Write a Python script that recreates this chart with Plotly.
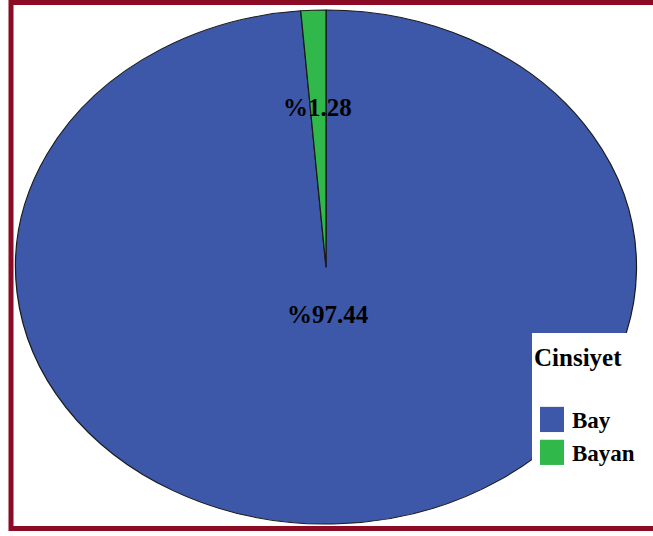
import plotly.graph_objects as go

# ---- data ----
categories = ["Bay", "Bayan"]
percentages = [97.44, 1.28]
legend_title = "Cinsiyet"
label_texts = ["%" + f"{v:.2f}" for v in percentages]

# ---- style ----
slice_colors = ["#3d58a8", "#31b84a"]
frame_color = "#8b0a24"
font_family = "Liberation Serif, Times New Roman, serif"

W, H = 653, 536
cx, cy = 326, 267       # pie centre (px)
ry = 257                # vertical radius (px)
rx = 310.5              # horizontal radius (px)

fig = go.Figure()
fig.add_trace(go.Pie(
    labels=categories,
    values=percentages,
    sort=False,
    direction="clockwise",
    rotation=0,
    marker=dict(colors=slice_colors, line=dict(color="#1a1a1a", width=1)),
    textinfo="none",
    hoverinfo="label+percent",
    domain=dict(x=[(cx - ry) / W, (cx + ry) / W],
                y=[1 - (cy + ry) / H, 1 - (cy - ry) / H]),
    showlegend=True,
))

# slice labels
label_pos = [(328, 314), (317.5, 107.5)]
for txt, (px, py) in zip(label_texts, label_pos):
    fig.add_annotation(
        text=txt, x=px / W, y=1 - py / H, xref="paper", yref="paper",
        xanchor="center", yanchor="middle", showarrow=False,
        font=dict(family=font_family, size=25, color="#000000", weight="bold"),
    )

# frame
fig.add_shape(type="rect", xref="paper", yref="paper",
              x0=11 / W, x1=1.05, y0=1 - 528.5 / H, y1=1 - 2.5 / H,
              line=dict(color=frame_color, width=5), fillcolor="rgba(0,0,0,0)",
              layer="above")

fig.update_layout(
    width=W, height=H,
    margin=dict(l=0, r=0, t=0, b=0),
    paper_bgcolor="white",
    plot_bgcolor="white",
    font=dict(family=font_family, size=25, color="#000000", weight="bold"),
    legend=dict(
        title=dict(text=legend_title + "<br> ",
                   font=dict(family=font_family, size=25, weight="bold")),
        font=dict(family=font_family, size=23, color="#000000", weight="bold"),
        x=532 / W, y=1 - 333 / H, xanchor="left", yanchor="top",
        bgcolor="white", borderwidth=0,
        traceorder="normal",
    ),
)

css = (
    "html,body{margin:0;padding:0;overflow:hidden;}"
    ".pielayer path.surface{transform-origin:%dpx %dpx;transform:scale(%.4f,1);}"
    ".legend path.legendpie{transform:translate(20px,0px) scale(2,2.1);stroke-width:0 !important;}"
) % (cx, cy, rx / ry)
post = ("var s=document.createElement('style');s.textContent=%r;"
        "document.head.appendChild(s);") % css

fig.write_html("out.html", post_script=post, config={"displayModeBar": False})
